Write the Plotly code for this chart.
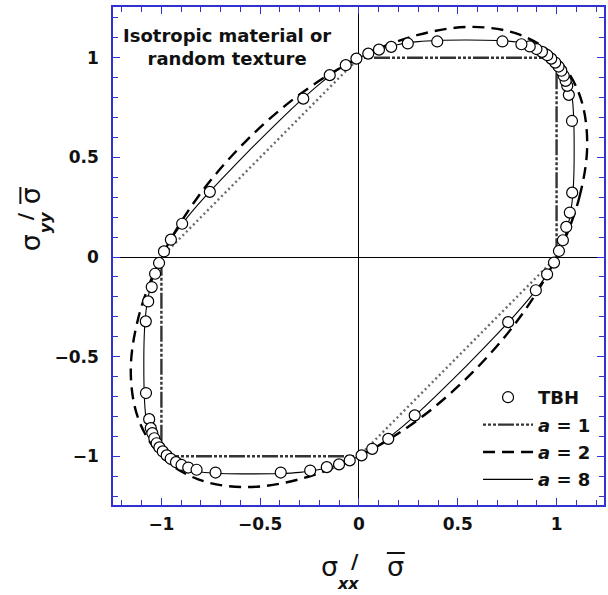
import plotly.graph_objects as go

# ---------------- data ----------------
# TBH predictions (circles)
tbh_x = [0.755, 0.895, 0.952, 0.987, 1.012, 1.032, 1.049, 1.067, 1.079, 1.078, 1.062,
         1.054, 1.046, 1.036, 1.024, 1.010, 0.993, 0.973, 0.953, 0.926, 0.898, 0.864,
         0.822, 0.726, 0.396, 0.247, 0.163, 0.101, 0.047, -0.013, -0.067, -0.148, -0.282,
         -0.755, -0.895, -0.952, -0.987, -1.012, -1.032, -1.049, -1.067, -1.079, -1.078, -1.062,
         -1.054, -1.046, -1.036, -1.024, -1.010, -0.993, -0.973, -0.953, -0.926, -0.898, -0.864,
         -0.822, -0.726, -0.396, -0.247, -0.163, -0.101, -0.047, 0.013, 0.067, 0.148, 0.282]
tbh_y = [-0.327, -0.167, -0.087, -0.028, 0.030, 0.084, 0.151, 0.223, 0.323, 0.683, 0.814,
         0.859, 0.884, 0.910, 0.935, 0.956, 0.976, 0.996, 1.013, 1.030, 1.044, 1.057,
         1.068, 1.082, 1.082, 1.072, 1.055, 1.041, 1.021, 0.996, 0.963, 0.913, 0.795,
         0.327, 0.167, 0.087, 0.028, -0.030, -0.084, -0.151, -0.223, -0.323, -0.683, -0.814,
         -0.859, -0.884, -0.910, -0.935, -0.956, -0.976, -0.996, -1.013, -1.030, -1.044, -1.057,
         -1.068, -1.082, -1.082, -1.072, -1.055, -1.041, -1.021, -0.996, -0.963, -0.913, -0.795]

# a = 1 locus: horizontal / vertical edges (dash-dot) and diagonal edges (dotted)
a1_edge_x = [0, 1, 1, None, 0, -1, -1]
a1_edge_y = [1, 1, 0, None, -1, -1, 0]
a1_diag_x = [-1, 0, None, 1, 0]
a1_diag_y = [0, 1, None, 0, -1]

# a = 2 locus
a2_x = [1.0, 1.115, 1.155, 1.115, 1.0, 0.817, 0.577, 0.299, 0.0, -0.299, -0.577, -0.817,
        -1.0, -1.115, -1.155, -1.115, -1.0, -0.817, -0.577, -0.299, 0.0, 0.299, 0.577, 0.817, 1.0]
a2_y = [0.0, 0.299, 0.577, 0.817, 1.0, 1.115, 1.155, 1.115, 1.0, 0.817, 0.577, 0.299,
        0.0, -0.299, -0.577, -0.817, -1.0, -1.115, -1.155, -1.115, -1.0, -0.817, -0.577, -0.299, 0.0]

# a = 8 locus
a8_x = [1.0, 1.041, 1.067, 1.081, 1.087, 1.089, 1.0865, 1.079, 1.058, 1.037, 1.0175, 1.0,
        0.98, 0.95, 0.9, 0.8, 0.7, 0.545, 0.4, 0.3, 0.2, 0.1, 0.0,
        -0.1, -0.2, -0.3, -0.4, -0.545, -0.687, -0.781, -0.868, -0.9435, -1.0,
        -1.041, -1.067, -1.081, -1.087, -1.089, -1.0865, -1.079, -1.058, -1.037, -1.0175, -1.0,
        -0.98, -0.95, -0.9, -0.8, -0.7, -0.545, -0.4, -0.3, -0.2, -0.1, 0.0,
        0.1, 0.2, 0.3, 0.4, 0.545, 0.687, 0.781, 0.868, 0.9435, 1.0]
a8_y = [0.0, 0.1, 0.2, 0.3, 0.4, 0.545, 0.7, 0.8, 0.9, 0.95, 0.98, 1.0,
        1.0175, 1.037, 1.058, 1.079, 1.0865, 1.089, 1.087, 1.081, 1.067, 1.041, 1.0,
        0.9435, 0.868, 0.781, 0.687, 0.545, 0.4, 0.3, 0.2, 0.1, 0.0,
        -0.1, -0.2, -0.3, -0.4, -0.545, -0.7, -0.8, -0.9, -0.95, -0.98, -1.0,
        -1.0175, -1.037, -1.058, -1.079, -1.0865, -1.089, -1.087, -1.081, -1.067, -1.041, -1.0,
        -0.9435, -0.868, -0.781, -0.687, -0.545, -0.4, -0.3, -0.2, -0.1, 0.0]

x_ticks = [-1, -0.5, 0, 0.5, 1]
y_ticks = [-1, -0.5, 0, 0.5, 1]
x_range = [-1.245, 1.240]
y_range = [-1.245, 1.255]

# ---------------- layout helpers ----------------
W, H = 608, 595
L, R, T, B = 113, 606, 7, 505


def px(x):
    return (x - L) / (R - L)


def py(y):
    return (B - y) / (B - T)


AX = "#3232d2"
FONT = "DejaVu Sans"

fig = go.Figure()

fig.add_trace(go.Scatter(x=a1_diag_x, y=a1_diag_y, mode="lines",
                         line=dict(color="#6a6a6a", width=2.4, dash="2px,3px"),
                         showlegend=False, hoverinfo="skip"))
fig.add_trace(go.Scatter(x=a1_edge_x, y=a1_edge_y, mode="lines", name="<b><i>a</i> = 1</b>",
                         line=dict(color="#333333", width=2.4, dash="3px,2px,3px,2px,3px,2px,16px,2px"),
                         legendgroup="g2", legendrank=2))
fig.add_trace(go.Scatter(x=a2_x, y=a2_y, mode="lines", name="<b><i>a</i> = 2</b>",
                         line=dict(color="black", width=2.4, dash="12px,7px", shape="spline"),
                         legendgroup="g3", legendrank=3))
fig.add_trace(go.Scatter(x=a8_x, y=a8_y, mode="lines", name="<b><i>a</i> = 8</b>",
                         line=dict(color="black", width=1.1, shape="spline", smoothing=0.6),
                         legendgroup="g4", legendrank=4))
fig.add_trace(go.Scatter(x=tbh_x, y=tbh_y, mode="markers", name="<b>TBH</b>",
                         marker=dict(symbol="circle", size=11, color="white",
                                     line=dict(color="black", width=1.2)),
                         legendgroup="g1", legendrank=1))

axis_common = dict(
    showgrid=False,
    zeroline=True, zerolinecolor="black", zerolinewidth=1,
    showline=True, linecolor=AX, linewidth=1.5, mirror="allticks",
    ticks="inside", ticklen=7, tickwidth=1.2, tickcolor=AX,
    minor=dict(ticks="inside", ticklen=5, tickwidth=1, tickcolor=AX, dtick=0.1),
    tickfont=dict(family=FONT, size=17, color="#111111", weight="bold"),
    tickmode="array",
)

fig.update_xaxes(range=x_range, tickvals=x_ticks,
                 ticktext=[f"{v:g}".replace("-", "\u2212") for v in x_ticks],
                 ticklabelstandoff=3, **axis_common)
fig.update_yaxes(range=y_range, tickvals=y_ticks,
                 ticktext=[f"{v:g}".replace("-", "\u2212") for v in y_ticks],
                 ticklabelstandoff=9, **axis_common)

ann = []
# box text
ann.append(dict(x=px(227), y=py(47), xref="paper", yref="paper", showarrow=False,
                text="<b>Isotropic material or<br>random texture</b>",
                font=dict(family=FONT, size=18, color="#111111"),
                xanchor="center", yanchor="middle", align="center"))

# x-axis title pieces
sig = dict(family=FONT, size=27, color="#111111")
sub = dict(family=FONT, size=16, color="#111111")
ann += [
    dict(x=px(330), y=py(566), text="σ", font=sig),
    dict(x=px(349), y=py(583), text="<b><i>xx</i></b>", font=sub),
    dict(x=px(356), y=py(561), text="<b>/</b>", font=dict(family=FONT, size=20, color="#111111")),
    dict(x=px(397), y=py(566), text="σ", font=sig),
]
# y-axis title pieces (rotated)
ann += [
    dict(x=px(30), y=py(243), text="σ", font=sig, textangle=-90),
    dict(x=px(46), y=py(223), text="<b><i>yy</i></b>", font=sub, textangle=-90),
    dict(x=px(25), y=py(216), text="<b>/</b>", font=dict(family=FONT, size=20, color="#111111"), textangle=-90),
    dict(x=px(31), y=py(196), text="σ", font=sig, textangle=-90),
]
for a in ann[1:]:
    a.update(xref="paper", yref="paper", showarrow=False, xanchor="center", yanchor="middle")

shapes = [
    dict(type="line", xref="paper", yref="paper", x0=px(388), x1=px(406), y0=py(553), y1=py(553),
         line=dict(color="#111111", width=2)),
    dict(type="line", xref="paper", yref="paper", x0=px(20), x1=px(20), y0=py(187), y1=py(204),
         line=dict(color="#111111", width=2)),
]

fig.update_layout(
    width=W, height=H,
    margin=dict(l=L, r=W - R, t=T, b=H - B, pad=0),
    paper_bgcolor="white", plot_bgcolor="white",
    annotations=ann, shapes=shapes,
    showlegend=True,
    legend=dict(x=px(598), y=py(379), xanchor="right", yanchor="top",
                bgcolor="rgba(0,0,0,0)", borderwidth=0,
                font=dict(family=FONT, size=18, color="#111111"),
                traceorder="grouped", tracegroupgap=1, itemwidth=50),
)

fig.write_html("out.html", config={"displayModeBar": False},
               post_script="document.body.style.margin='0';document.body.style.overflow='hidden';")
